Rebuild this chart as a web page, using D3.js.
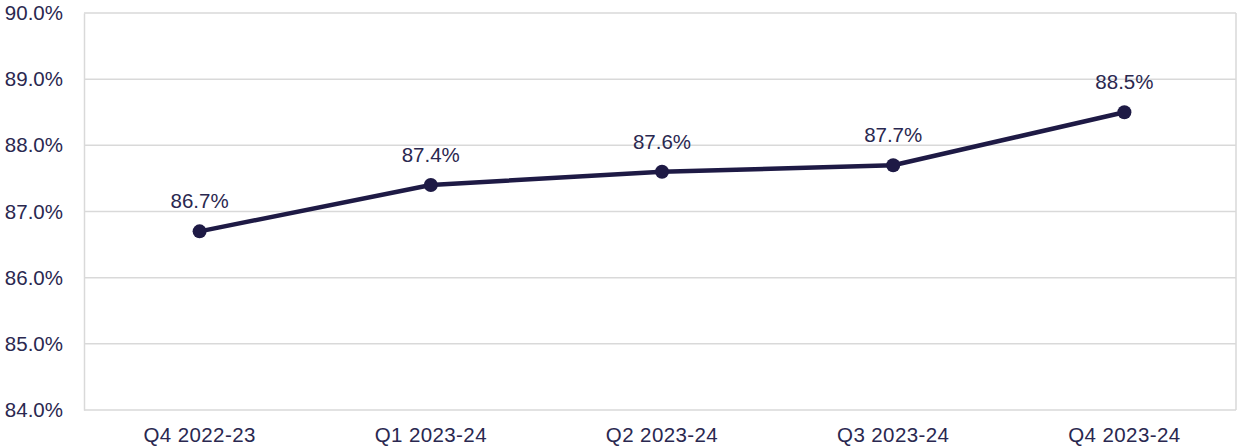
<!DOCTYPE html>
<html>
<head>
<meta charset="utf-8">
<script src="https://cdn.jsdelivr.net/npm/d3@7"></script>
<style>
  body { margin: 0; background: #fff; }
  svg { display: block; font-family: "Liberation Sans", Arial, sans-serif; }
</style>
</head>
<body>
<script>
const quarters = ["Q4 2022-23", "Q1 2023-24", "Q2 2023-24", "Q3 2023-24", "Q4 2023-24"];
const values = [86.7, 87.4, 87.6, 87.7, 88.5];
const yTicks = [84, 85, 86, 87, 88, 89, 90];

const width = 1240, height = 447;
const margin = { top: 13, right: 4, bottom: 37, left: 84 };
const ink = "#1e1a45";
const textColor = "#2a2850";
const fontSize = "20.5px";

const svg = d3.select("body").append("svg")
  .attr("width", width)
  .attr("height", height);

const x = d3.scaleBand()
  .domain(quarters)
  .range([margin.left, width]);

const y = d3.scaleLinear()
  .domain([84, 90])
  .range([height - margin.bottom, margin.top]);

// gridlines
svg.append("g")
  .selectAll("line")
  .data(yTicks)
  .enter()
  .append("line")
  .attr("x1", margin.left)
  .attr("x2", width - margin.right)
  .attr("y1", d => y(d))
  .attr("y2", d => y(d))
  .attr("stroke", "#d9d9d9")
  .attr("stroke-width", 1.5);

// right border
svg.append("line")
  .attr("x1", width - margin.right)
  .attr("x2", width - margin.right)
  .attr("y1", y(90))
  .attr("y2", y(84))
  .attr("stroke", "#d9d9d9")
  .attr("stroke-width", 1.5);

// y axis
const yAxis = svg.append("g")
  .attr("transform", `translate(${margin.left},0)`)
  .call(d3.axisLeft(y).tickValues(yTicks).tickFormat(d => d.toFixed(1) + "%").tickSize(0).tickPadding(21));
yAxis.select(".domain").attr("stroke", "#d9d9d9").attr("stroke-width", 1.5);
yAxis.selectAll("text").attr("fill", textColor).style("font-size", fontSize);

// x axis
const xAxis = svg.append("g")
  .attr("transform", `translate(0,${height - margin.bottom})`)
  .call(d3.axisBottom(x).tickSize(0).tickPadding(17));
xAxis.select(".domain").remove();
xAxis.selectAll("text").attr("fill", textColor).style("font-size", fontSize).style("letter-spacing", "0.4px");

const cx = d => x(d) + x.bandwidth() / 2;

// line
svg.append("path")
  .datum(values)
  .attr("fill", "none")
  .attr("stroke", ink)
  .attr("stroke-width", 4.5)
  .attr("stroke-linejoin", "round")
  .attr("d", d3.line().x((d, i) => cx(quarters[i])).y(d => y(d)));

// markers
svg.append("g")
  .selectAll("circle")
  .data(values)
  .enter()
  .append("circle")
  .attr("cx", (d, i) => cx(quarters[i]))
  .attr("cy", d => y(d))
  .attr("r", 7)
  .attr("fill", ink);

// data labels
svg.append("g")
  .selectAll("text")
  .data(values)
  .enter()
  .append("text")
  .attr("x", (d, i) => cx(quarters[i]))
  .attr("y", d => y(d) - 23)
  .attr("text-anchor", "middle")
  .attr("fill", textColor)
  .style("font-size", fontSize)
  .text(d => d.toFixed(1) + "%");
</script>
</body>
</html>
